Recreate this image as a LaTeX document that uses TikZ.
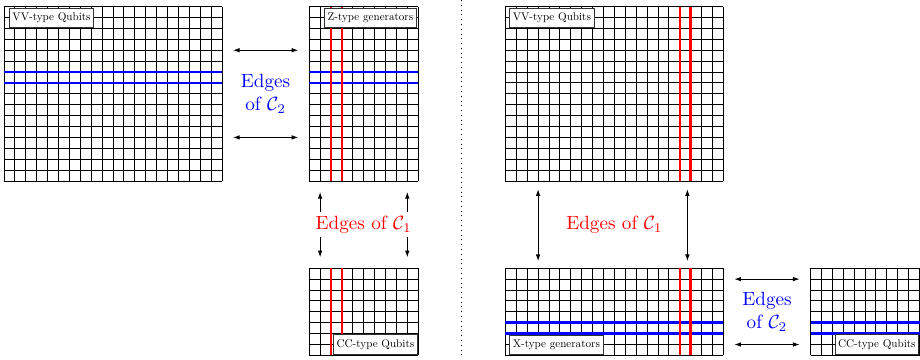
\documentclass[tikz,border=0pt]{standalone}
\usetikzlibrary{arrows.meta}
\newcommand\tagtxt[1]{\scalebox{0.58}{#1}}
\begin{document}
\tikzset{
  gridline/.style={line width=0.5pt, black},
  bluel/.style={blue, line width=1.3pt},
  redl/.style={red, line width=1.3pt},
  tag/.style={draw=black!80, line width=0.4pt, fill=white, inner xsep=1.6pt, inner ysep=2.4pt},
  conn/.style={{Latex[length=3.5pt,width=2.4pt]}-{Latex[length=3.5pt,width=2.4pt]}, line width=0.5pt},
  edgelab/.style={align=center, font=\normalsize, fill=white, inner sep=2pt},
  sep/.style={dotted, line width=0.5pt}
}
\begin{tikzpicture}[scale=0.2]
\useasboundingbox (-0.37,-16.33) rectangle (84.04,16.61);
% ---------- left half ----------
\draw[gridline] (0,0) grid (20,16);
\draw[gridline] (28,0) grid (38,16);
\draw[gridline] (28,-16) grid (38,-8);
\draw[bluel] (0,9) -- (20,9) (0,10) -- (20,10);
\draw[bluel] (28,9) -- (38,9) (28,10) -- (38,10);
\draw[redl] (30,0) -- (30,16) (31,0) -- (31,16);
\draw[redl] (30,-16) -- (30,-8) (31,-16) -- (31,-8);
% ---------- right half ----------
\draw[gridline] (46,0) grid (66,16);
\draw[gridline] (46,-16) grid (66,-8);
\draw[gridline] (74,-16) grid (84,-8);
\draw[bluel] (46,-13) -- (66,-13) (46,-14) -- (66,-14);
\draw[bluel] (74,-13) -- (84,-13) (74,-14) -- (84,-14);
\draw[redl] (62,0) -- (62,16) (63,0) -- (63,16);
\draw[redl] (62,-16) -- (62,-8) (63,-16) -- (63,-8);
% ---------- separator ----------
\coordinate (dtop) at (42,16.61);
\coordinate (dbot) at (42,-16.33);
\draw[sep] (dtop) -- (dbot);
% ---------- connectors ----------
\coordinate (h1a) at (21,12); \coordinate (h1b) at (27,12);
\coordinate (h2a) at (21,4);  \coordinate (h2b) at (27,4);
\draw[conn] (h1a) -- (h1b);
\draw[conn] (h2a) -- (h2b);
\coordinate (v1a) at (29,-1); \coordinate (v1b) at (29,-7);
\coordinate (v2a) at (37,-1); \coordinate (v2b) at (37,-7);
\draw[conn] (v1a) -- (v1b);
\draw[conn] (v2a) -- (v2b);
\coordinate (v3a) at (49,-0.75); \coordinate (v3b) at (49,-7.35);
\coordinate (v4a) at (62.7,-0.75); \coordinate (v4b) at (62.7,-7.35);
\draw[conn] (v3a) -- (v3b);
\draw[conn] (v4a) -- (v4b);
\coordinate (h3a) at (67,-9);  \coordinate (h3b) at (73,-9);
\coordinate (h4a) at (67,-15); \coordinate (h4b) at (73,-15);
\draw[conn] (h3a) -- (h3b);
\draw[conn] (h4a) -- (h4b);
% ---------- edge labels ----------
\node[edgelab, text=blue] (e2L) at (24,8) {Edges\\of $\mathcal{C}_2$};
\node[edgelab, text=red] (e1L) at (33,-4) {Edges of $\mathcal{C}_1$};
\node[edgelab, text=red] (e1R) at (56,-4) {Edges of $\mathcal{C}_1$};
\node[edgelab, text=blue] (e2R) at (70,-12) {Edges\\of $\mathcal{C}_2$};
% ---------- grid tags ----------
\node[tag, anchor=west] (vvL) at (0.46,15) {\tagtxt{VV-type Qubits}};
\node[tag, anchor=east] (zL) at (37.86,15) {\tagtxt{Z-type generators}};
\node[tag, anchor=east] (ccL) at (37.95,-15) {\tagtxt{CC-type Qubits}};
\node[tag, anchor=west] (vvR) at (46.36,15) {\tagtxt{VV-type Qubits}};
\node[tag, anchor=west] (xR) at (46.36,-15) {\tagtxt{X-type generators}};
\node[tag, anchor=east] (ccR) at (83.95,-15) {\tagtxt{CC-type Qubits}};
\end{tikzpicture}
\end{document}
